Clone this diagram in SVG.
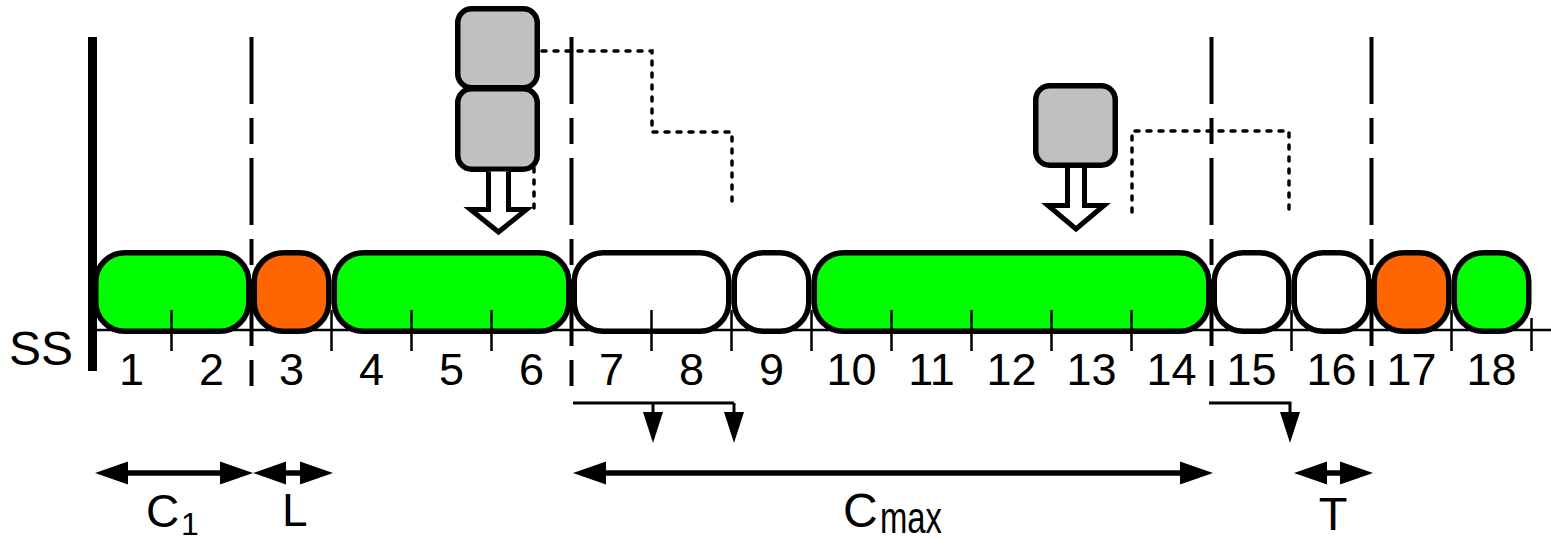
<svg xmlns="http://www.w3.org/2000/svg" width="1551" height="539" viewBox="0 0 1551 539">
<style>
.slot{stroke:#000;stroke-width:5.5}
.green{fill:#00FF00}
.orange{fill:#FF6600}
.white{fill:#FFFFFF}
.gray{fill:#C0C0C0;stroke:#000;stroke-width:5.5}
.hollow{fill:#FFFFFF;stroke:#000;stroke-width:5;stroke-linejoin:miter}
.dash{stroke:#000;stroke-width:4;stroke-dasharray:67 14 26 14;fill:none}
.dot{stroke:#000;stroke-width:3.5;stroke-dasharray:4 8;stroke-linecap:round;fill:none}
.tick{stroke:#000;stroke-width:2.5}
.thin{stroke:#000;stroke-width:3;fill:none}
.thick{stroke:#000;stroke-width:5.5;fill:none}
text{font-family:"Liberation Sans",Arial,Helvetica,sans-serif;fill:#000}
.num{font-size:45px;text-anchor:middle}
.lbl{font-size:46px}
</style>
<defs>
<marker id="big" markerUnits="userSpaceOnUse" markerWidth="34" markerHeight="24" viewBox="0 -12 34 24" refX="0" refY="0" orient="auto-start-reverse" overflow="visible">
<path d="M0,-11.5 L33,0 L0,11.5 Z" fill="#000"/>
</marker>
<marker id="small" markerUnits="userSpaceOnUse" markerWidth="32" markerHeight="22" viewBox="0 -11 32 22" refX="0" refY="0" orient="auto" overflow="visible">
<path d="M0,-10 L31,0 L0,10 Z" fill="#000"/>
</marker>
</defs>

<g id="axis">
<line x1="92" y1="330" x2="1551" y2="330" stroke="#000" stroke-width="2.5"/>
<line x1="92.5" y1="37" x2="92.5" y2="371" stroke="#000" stroke-width="9"/>
<text x="9" y="365" style="font-size:48px">SS</text>
</g>

<g id="dividers">
<line class="dash" x1="251.5" y1="37" x2="251.5" y2="386"/>
<line class="dash" x1="571.5" y1="37" x2="571.5" y2="386"/>
<line class="dash" x1="1211.5" y1="37" x2="1211.5" y2="386"/>
<line class="dash" x1="1371.5" y1="37" x2="1371.5" y2="386"/>
</g>

<g id="slots">
<rect id="slot-1-2" class="slot green" x="95.75" y="252.75" width="153" height="78.5" rx="29"/>
<rect id="slot-3" class="slot orange" x="254.25" y="252.75" width="74.5" height="78.5" rx="29"/>
<rect id="slot-4-6" class="slot green" x="334.25" y="252.75" width="234.5" height="78.5" rx="29"/>
<rect id="slot-7-8" class="slot white" x="574.25" y="252.75" width="154.5" height="78.5" rx="29"/>
<rect id="slot-9" class="slot white" x="734.25" y="252.75" width="74.5" height="78.5" rx="29"/>
<rect id="slot-10-14" class="slot green" x="814.25" y="252.75" width="394.5" height="78.5" rx="29"/>
<rect id="slot-15" class="slot white" x="1214.25" y="252.75" width="74.5" height="78.5" rx="29"/>
<rect id="slot-16" class="slot white" x="1294.25" y="252.75" width="74.5" height="78.5" rx="29"/>
<rect id="slot-17" class="slot orange" x="1374.25" y="252.75" width="74.5" height="78.5" rx="29"/>
<rect id="slot-18" class="slot green" x="1454.25" y="252.75" width="74.5" height="78.5" rx="29"/>
</g>

<g id="ticks">
<line class="tick" x1="171.5" y1="310" x2="171.5" y2="351"/>
<line class="tick" x1="331.5" y1="310" x2="331.5" y2="351"/>
<line class="tick" x1="411.5" y1="310" x2="411.5" y2="351"/>
<line class="tick" x1="491.5" y1="310" x2="491.5" y2="351"/>
<line class="tick" x1="651.5" y1="310" x2="651.5" y2="351"/>
<line class="tick" x1="731.5" y1="310" x2="731.5" y2="351"/>
<line class="tick" x1="811.5" y1="310" x2="811.5" y2="351"/>
<line class="tick" x1="891.5" y1="310" x2="891.5" y2="351"/>
<line class="tick" x1="971.5" y1="310" x2="971.5" y2="351"/>
<line class="tick" x1="1051.5" y1="310" x2="1051.5" y2="351"/>
<line class="tick" x1="1131.5" y1="310" x2="1131.5" y2="351"/>
<line class="tick" x1="1291.5" y1="310" x2="1291.5" y2="351"/>
<line class="tick" x1="1451.5" y1="310" x2="1451.5" y2="351"/>
<line class="tick" x1="1531.5" y1="318" x2="1531.5" y2="351"/>
</g>

<g id="numbers">
<text class="num" x="131.5" y="385">1</text>
<text class="num" x="211.5" y="385">2</text>
<text class="num" x="291.5" y="385">3</text>
<text class="num" x="371.5" y="385">4</text>
<text class="num" x="451.5" y="385">5</text>
<text class="num" x="531.5" y="385">6</text>
<text class="num" x="611.5" y="385">7</text>
<text class="num" x="691.5" y="385">8</text>
<text class="num" x="771.5" y="385">9</text>
<text class="num" x="851.5" y="385">10</text>
<text class="num" x="931.5" y="385">11</text>
<text class="num" x="1011.5" y="385">12</text>
<text class="num" x="1091.5" y="385">13</text>
<text class="num" x="1171.5" y="385">14</text>
<text class="num" x="1251.5" y="385">15</text>
<text class="num" x="1331.5" y="385">16</text>
<text class="num" x="1411.5" y="385">17</text>
<text class="num" x="1491.5" y="385">18</text>
</g>

<g id="connectors">
<path class="dot" d="M542,51 H652 V132 H732 V208"/>
<path class="dot" d="M534,168 V213"/>
<path class="dot" d="M1132,212 V131 H1289 V212"/>
<path class="thin" d="M573,403 H734"/>
<path class="thin" d="M653,403 V412" marker-end="url(#small)"/>
<path class="thin" d="M734,403 V412" marker-end="url(#small)"/>
<path class="thin" d="M1209,403 H1290 V412" marker-end="url(#small)"/>
<path class="thick" d="M128,473 H220" marker-start="url(#big)" marker-end="url(#big)"/>
<path class="thick" d="M286,473 H300" marker-start="url(#big)" marker-end="url(#big)"/>
<path class="thick" d="M606,473 H1180" marker-start="url(#big)" marker-end="url(#big)"/>
<path class="thick" d="M1327,473 H1340" marker-start="url(#big)" marker-end="url(#big)"/>
</g>

<g id="job-stack-1">
<rect class="gray" x="457.75" y="8.75" width="79.5" height="79" rx="14"/>
<rect class="gray" x="457.75" y="88.75" width="79.5" height="80.5" rx="14"/>
<path class="hollow" d="M488.5,171.5 V209.5 H470.5 L498.5,232 L526.5,209.5 H508.5 V171.5"/>
</g>

<g id="job-stack-2">
<rect class="gray" x="1035.75" y="85.75" width="79.5" height="79.5" rx="14"/>
<path class="hollow" d="M1067.5,168 V205.5 H1048 L1076,229 L1104,205.5 H1084.5 V168"/>
</g>

<g id="labels">
<text class="lbl" x="146" y="527">C<tspan x="181" y="535" style="font-size:32px">1</tspan></text>
<text class="lbl" x="282" y="526">L</text>
<text class="lbl" x="843" y="527" style="font-size:48px">C<tspan x="880" y="533" style="font-size:44px" textLength="62" lengthAdjust="spacingAndGlyphs">max</tspan></text>
<text x="1333" y="530" style="font-size:47px;text-anchor:middle">T</text>
</g>
</svg>
